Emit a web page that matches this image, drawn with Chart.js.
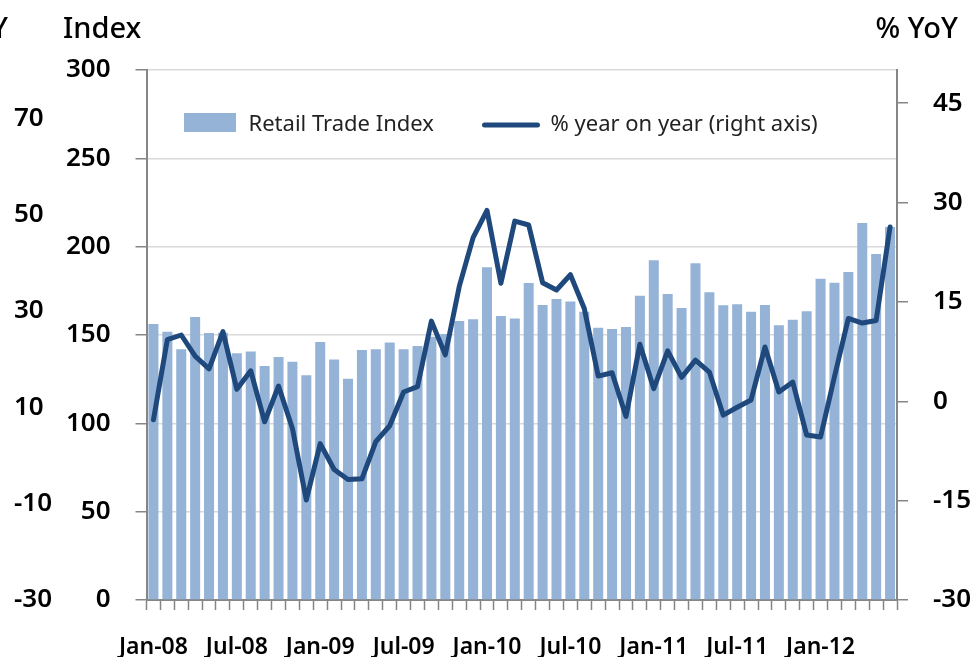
<!DOCTYPE html>
<html lang="en">
<head>
    <meta charset="UTF-8">
    <title>Retail Trade Index</title>
    <script src="https://cdn.jsdelivr.net/npm/chart.js"></script>
    <style>
        html, body { margin: 0; padding: 0; background: #fff; }
        #wrap { width: 978px; height: 657px; }
    </style>
</head>
<body>
    <div id="wrap"><canvas id="myChart" width="978" height="657"></canvas></div>

    <script>
        const categories = [
            'Jan-08','Feb-08','Mar-08','Apr-08','May-08','Jun-08','Jul-08','Aug-08','Sep-08','Oct-08','Nov-08','Dec-08',
            'Jan-09','Feb-09','Mar-09','Apr-09','May-09','Jun-09','Jul-09','Aug-09','Sep-09','Oct-09','Nov-09','Dec-09',
            'Jan-10','Feb-10','Mar-10','Apr-10','May-10','Jun-10','Jul-10','Aug-10','Sep-10','Oct-10','Nov-10','Dec-10',
            'Jan-11','Feb-11','Mar-11','Apr-11','May-11','Jun-11','Jul-11','Aug-11','Sep-11','Oct-11','Nov-11','Dec-11',
            'Jan-12','Feb-12','Mar-12','Apr-12','May-12','Jun-12'
        ];
        const retailIndex = [
            156.2, 151.9, 141.9, 160.2, 151.1, 151.3, 139.6, 140.6, 132.4, 137.5, 134.9, 127.2,
            146.0, 136.2, 125.3, 141.5, 141.9, 145.8, 141.9, 143.8, 149.0, 150.5, 157.9, 158.9,
            188.3, 160.7, 159.4, 179.4, 167.0, 170.4, 168.9, 163.2, 154.1, 153.4, 154.5, 172.2,
            192.3, 173.2, 165.3, 190.6, 174.2, 166.8, 167.4, 163.2, 167.0, 155.5, 158.7, 163.4,
            181.9, 179.6, 185.6, 213.4, 195.8, 211.1
        ];
        const yoy = [
            -2.8, 9.3, 10.0, 6.8, 4.9, 10.5, 1.8, 4.6, -3.1, 2.3, -4.1, -14.9,
            -6.4, -10.3, -11.8, -11.7, -6.1, -3.7, 1.4, 2.2, 12.1, 7.0, 17.3, 24.7,
            28.8, 17.8, 27.2, 26.6, 17.9, 16.8, 19.1, 14.0, 3.8, 4.3, -2.3, 8.6,
            1.9, 7.6, 3.6, 6.2, 4.4, -2.1, -0.9, 0.2, 8.2, 1.4, 2.9, -5.1,
            -5.4, 3.7, 12.5, 11.8, 12.2, 26.3
        ];
        const indexTicks = [0, 50, 100, 150, 200, 250, 300];
        const yoyTicks = [-30, -15, 0, 15, 30, 45];
        const outerTicks = [-30, -10, 10, 30, 50, 70];

        const FONT = "'Noto Sans', 'DejaVu Sans', sans-serif";
        const barColor = '#95b3d7';
        const lineColor = '#1f497d';
        const axisColor = '#868686';
        const gridColor = '#d9d9d9';

        // titles above the axes and the legend inside the plot
        const extras = {
            id: 'extras',
            afterDraw(chart) {
                const c = chart.ctx;
                const a = chart.chartArea;
                const sets = chart.data.datasets;
                c.save();
                c.fillStyle = '#000';
                c.textBaseline = 'alphabetic';
                c.font = '500 29px ' + FONT;
                c.textAlign = 'left';
                c.fillText('Index', 63, 38);
                c.textAlign = 'right';
                c.fillText('% YoY', 958, 38);
                c.fillText('% YoY', 8, 38);

                // legend
                const ly = a.top + 55;
                c.fillStyle = barColor;
                c.fillRect(a.left + 37.5, ly - 12, 52, 19);
                c.fillStyle = '#222';
                c.font = '22px ' + FONT;
                c.textAlign = 'left';
                c.textBaseline = 'middle';
                c.fillText(sets[1].label, a.left + 102, ly);
                c.strokeStyle = lineColor;
                c.lineWidth = 5;
                c.lineCap = 'round';
                c.beginPath();
                c.moveTo(a.left + 338, ly);
                c.lineTo(a.left + 391, ly);
                c.stroke();
                c.fillText(sets[0].label, a.left + 404, ly);
                c.restore();
            }
        };

        const tickFont = { family: FONT, size: 26, weight: 600 };
        const fixedTicks = arr => scale => { scale.ticks = arr.map(v => ({ value: v })); };

        const ctx = document.getElementById('myChart').getContext('2d');
        const myChart = new Chart(ctx, {
            data: {
                labels: categories,
                datasets: [{
                    type: 'line',
                    label: '% year on year (right axis)',
                    data: yoy,
                    yAxisID: 'y2',
                    borderColor: lineColor,
                    borderWidth: 5,
                    pointRadius: 0,
                    tension: 0,
                    borderJoinStyle: 'round',
                    borderCapStyle: 'round',
                    order: 0
                }, {
                    type: 'bar',
                    label: 'Retail Trade Index',
                    data: retailIndex,
                    yAxisID: 'y',
                    backgroundColor: barColor,
                    barPercentage: 0.72,
                    categoryPercentage: 1,
                    order: 1
                }]
            },
            options: {
                responsive: false,
                animation: false,
                layout: { padding: { left: 14, right: 0, top: 70, bottom: 0 } },
                plugins: {
                    legend: { display: false },
                    tooltip: { enabled: false }
                },
                scales: {
                    x: {
                        offset: true,
                        grid: { offset: true, drawOnChartArea: false, tickLength: 10, tickColor: axisColor, tickWidth: 1.5 },
                        border: { color: axisColor, width: 2 },
                        ticks: {
                            autoSkip: false, maxRotation: 0, padding: 24, color: '#000',
                            font: { family: FONT, size: 23, weight: 600 },
                            callback: (v, i) => i % 6 === 0 ? categories[i] : ''
                        },
                        afterFit(s) { s.height = 57; }
                    },
                    y: {
                        position: 'left',
                        min: 0, max: 300,
                        afterBuildTicks: fixedTicks(indexTicks),
                        grid: { color: gridColor, lineWidth: 1.5, tickLength: 11, tickColor: axisColor },
                        border: { color: axisColor, width: 2 },
                        ticks: { padding: 25, color: '#000', font: tickFont },
                        afterFit(s) { s.width = 83.5; }
                    },
                    y3: {
                        position: 'left',
                        weight: 1,
                        min: -30, max: 80,
                        afterBuildTicks: fixedTicks(outerTicks),
                        grid: { display: false },
                        border: { display: false },
                        ticks: { crossAlign: 'far', padding: 0, color: '#000', font: tickFont },
                        afterFit(s) { s.width = 49; }
                    },
                    y2: {
                        position: 'right',
                        min: -30, max: 50,
                        afterBuildTicks: fixedTicks(yoyTicks),
                        grid: { drawOnChartArea: false, tickLength: 11, tickColor: axisColor, lineWidth: 1.5 },
                        border: { color: axisColor, width: 2 },
                        ticks: { padding: 25, color: '#000', font: tickFont },
                        afterFit(s) { s.width = 81; }
                    }
                }
            },
            plugins: [extras]
        });
    </script>
</body>
</html>
